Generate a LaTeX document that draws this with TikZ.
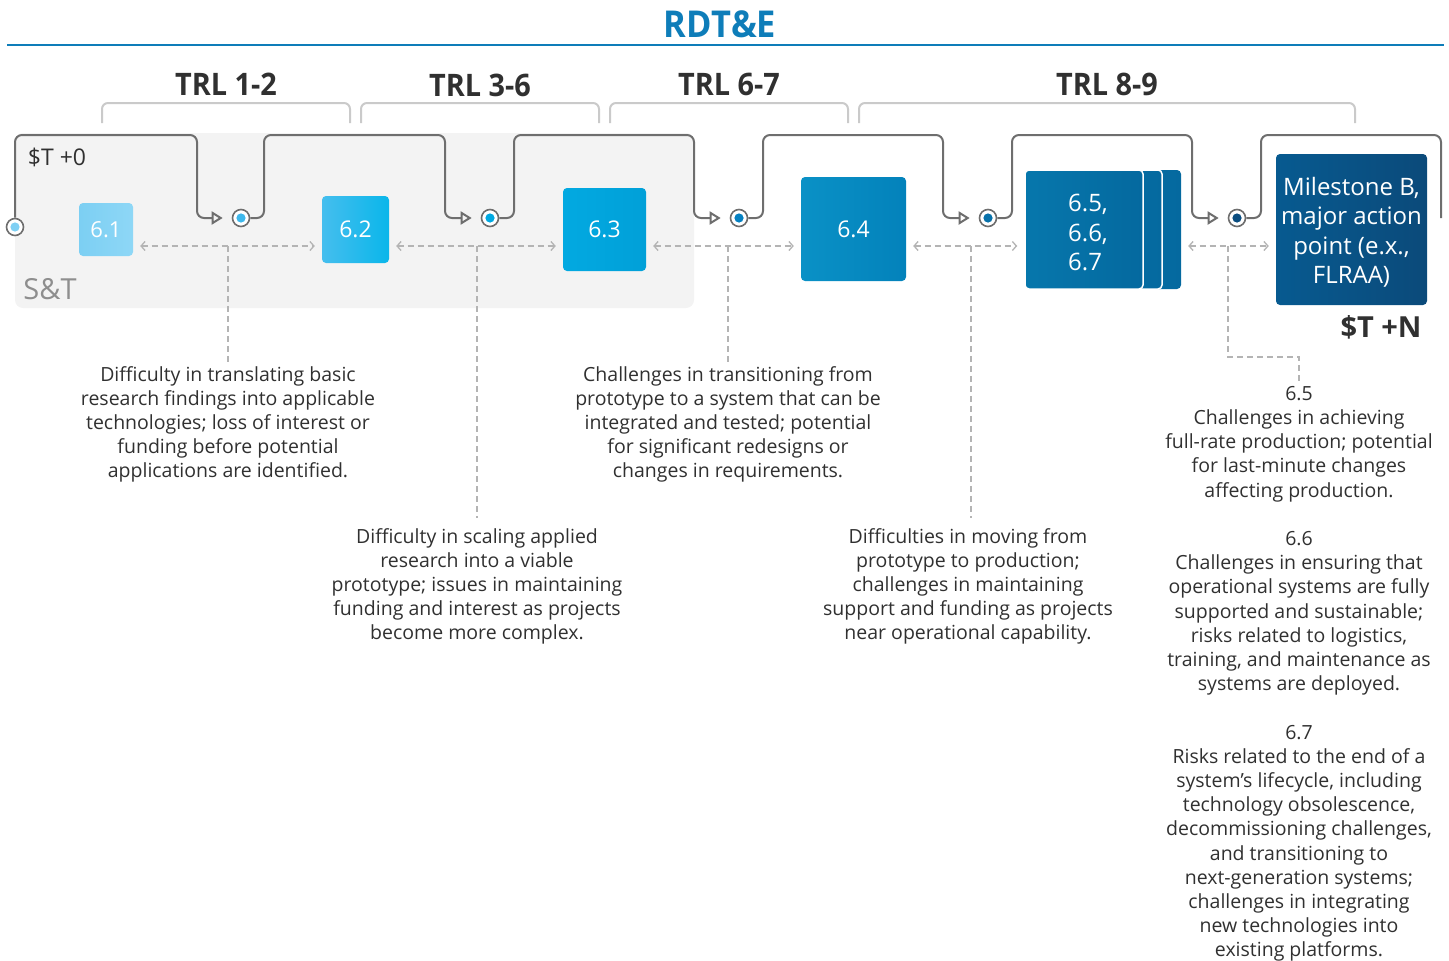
\documentclass[tikz,border=0pt]{standalone}
\usepackage{fontspec}
\setmainfont{Open Sans}
\newfontfamily\headfont{Open Sans}[FakeStretch=0.93]
\usetikzlibrary{arrows.meta}

\definecolor{rdteblue}{HTML}{0E7DB9}
\definecolor{flowgray}{HTML}{6E6E6E}
\definecolor{bracketgray}{HTML}{CACACA}
\definecolor{dashgray}{HTML}{B4B4B4}
\definecolor{stbg}{HTML}{F3F3F3}
\definecolor{stgray}{HTML}{8E8E8E}
\definecolor{ink}{HTML}{303030}
% box shades, light to dark
\definecolor{c61a}{HTML}{7CCFF3}\definecolor{c61b}{HTML}{8ED7F6}
\definecolor{c62a}{HTML}{45BEEE}\definecolor{c62b}{HTML}{0AB6EA}
\definecolor{c63a}{HTML}{02A9E1}\definecolor{c63b}{HTML}{01A0D8}
\definecolor{c64a}{HTML}{0A91C6}\definecolor{c64b}{HTML}{0382BB}
\definecolor{c65a}{HTML}{0677AC}\definecolor{c65b}{HTML}{05699F}
\definecolor{cMBa}{HTML}{075A90}\definecolor{cMBb}{HTML}{0B4A7A}
% gate dots
\definecolor{g0}{HTML}{7FD0F4}
\definecolor{g1}{HTML}{3EB8EC}
\definecolor{g2}{HTML}{00A9E2}
\definecolor{g3}{HTML}{0581C2}
\definecolor{g4}{HTML}{0771AA}
\definecolor{g5}{HTML}{0A4D80}

\tikzset{
  flow/.style={draw=flowgray, line width=2pt, rounded corners=7pt},
  flowtip/.style={-{Triangle[open, length=11pt, width=13pt]}, shorten >=9pt},
  gatedot/.style={circle, draw=flowgray, line width=1.6pt, fill=white,
    minimum size=17pt, inner sep=0pt,
    path picture={\fill[#1] (path picture bounding box.center) circle (4.6pt);}},
  trlbox/.style 2 args={rounded corners=4pt, left color=#1, right color=#2,
    text=white, inner sep=0pt, font=\fontsize{23}{28}\selectfont},
  boxtext/.style={text=white, inner sep=0pt, font=\fontsize{24}{29.5}\selectfont},
  gaparrow/.style={draw=dashgray, line width=1.3pt, dash pattern=on 6pt off 4pt,
    {Straight Barb[length=4pt, width=9pt]}-{Straight Barb[length=4pt, width=9pt]},
    shorten <=7pt, shorten >=7pt},
  noteline/.style={draw=dashgray, line width=1.2pt, dash pattern=on 6pt off 4pt},
  note/.style={align=center, anchor=north, inner sep=0pt, text=ink,
    font=\fontsize{19.5}{24.2}\selectfont},
  trl/.style={font=\headfont\bfseries\fontsize{31}{36}\selectfont, text=ink},
  bracket/.style={draw=bracketgray, line width=2pt, rounded corners=6pt},
}

\begin{document}
\begin{tikzpicture}[x=1pt, y=-1pt]
  \useasboundingbox (0,0) rectangle (1449,961);

  % heading and rule
  \node[font=\headfont\bfseries\fontsize{37}{40}\selectfont, text=rdteblue] (rdte) at (720,24) {RDT\&E};
  \draw[rdteblue, line width=2.2pt] (7,45) -- (1444,45);

  % TRL bands
  \node[trl] (trl12) at (226,84) {TRL 1-2};
  \node[trl] (trl36) at (480,85) {TRL 3-6};
  \node[trl] (trl67) at (729,84) {TRL 6-7};
  \node[trl] (trl89) at (1107,84) {TRL 8-9};
  \foreach \l/\r in {102/350, 361/599, 610/848, 859/1355}
    \draw[bracket] (\l,123) |- ({(\l+\r)/2},103) -| (\r,123);

  % S&T area
  \fill[stbg, rounded corners=8pt] (15,133) rectangle (694,308);
  \node[text=ink, font=\fontsize{23}{28}\selectfont] (tzero) at (57,157) {\$T +0};
  \node[text=stgray, font=\fontsize{29}{34}\selectfont] (snt) at (50,289) {S\&T};

  % stage boxes
  \node[trlbox={c61a}{c61b}, minimum width=54pt, minimum height=53pt, font=\fontsize{22}{26}\selectfont] (b61) at (106,229.5) {6.1};
  \node[trlbox={c62a}{c62b}, minimum width=67pt, minimum height=67pt] (b62) at (355.5,229.5) {6.2};
  \node[trlbox={c63a}{c63b}, minimum width=83pt, minimum height=83pt] (b63) at (604.5,229.5) {6.3};
  \node[trlbox={c64a}{c64b}, minimum width=105pt, minimum height=104pt] (b64) at (853.5,229) {6.4};
  \node[trlbox={c65a}{c65b}, minimum width=156pt, minimum height=119pt] (b65c) at (1103,229.5) {};
  \node[trlbox={c65a}{c65b}, draw=white, line width=1.5pt, minimum width=137pt, minimum height=119pt] (b65b) at (1093.5,229.5) {};
  \node[trlbox={c65a}{c65b}, draw=white, line width=1.5pt, minimum width=118pt, minimum height=119pt,
    label={[boxtext, align=left, xshift=4pt, yshift=-3pt]center:6.5,\\6.6,\\6.7}] (b65) at (1084,229.5) {};
  \node[trlbox={cMBa}{cMBb}, minimum width=151pt, minimum height=151pt,
    label={[boxtext, align=center, yshift=-3pt]center:Milestone B,\\major action\\point (e.x.,\\FLRAA)}] (mileB) at (1351.5,229.5) {};
  \node[text=ink, font=\bfseries\fontsize{29}{34}\selectfont] (tplusN) at (1381,327) {\$T +N};

  % gates
  \node[gatedot=g0] (c0) at (15,227) {};
  \node[gatedot=g1] (c1) at (241,218) {};
  \node[gatedot=g2] (c2) at (490,218) {};
  \node[gatedot=g3] (c3) at (739,218) {};
  \node[gatedot=g4] (c4) at (988,218) {};
  \node[gatedot=g5] (c5) at (1237,218) {};
  \coordinate (flowend) at (1441,218);

  % flow line
  \draw[flow, flowtip] (c0) |- (197,135) |- (c1);
  \foreach \a/\b/\r/\f in {c1/c2/264/445, c2/c3/514/694, c3/c4/763/943, c4/c5/1012/1192}
    \draw[flow, flowtip] (\a) -| (\r,135) -| (\f,218) -- (\b);
  \draw[flow] (c5) -| (1261,135) -| (flowend);

  % gaps between stages
  \coordinate (gapy) at (0,246);
  \draw[gaparrow] (b61.east |- gapy) -- (b62.west |- gapy);
  \draw[gaparrow] (b62.east |- gapy) -- (b63.west |- gapy);
  \draw[gaparrow] (b63.east |- gapy) -- (b64.west |- gapy);
  \draw[gaparrow] (b64.east |- gapy) -- (b65.west |- gapy);
  \draw[gaparrow] (b65c.east |- gapy) -- (mileB.west |- gapy);

  % notes
  \node[note] (n1) at (228,366) {Difficulty in translating basic\\research findings into applicable\\technologies; loss of interest or\\funding before potential\\applications are identified.};
  \node[note] (n2) at (477,528) {Difficulty in scaling applied\\research into a viable\\prototype; issues in maintaining\\funding and interest as projects\\become more complex.};
  \node[note] (n3) at (728,366) {Challenges in transitioning from\\prototype to a system that can be\\integrated and tested; potential\\for significant redesigns or\\changes in requirements.};
  \node[note] (n4) at (968,528) {Difficulties in moving from\\prototype to production;\\challenges in maintaining\\support and funding as projects\\near operational capability.};
  \node[note] (n65) at (1299,386) {6.5\\Challenges in achieving\\full-rate production; potential\\for last-minute changes\\affecting production.\\[24.2pt]
    6.6\\Challenges in ensuring that\\operational systems are fully\\supported and sustainable;\\risks related to logistics,\\training, and maintenance as\\systems are deployed.\\[24.2pt]
    6.7\\Risks related to the end of a\\system’s lifecycle, including\\technology obsolescence,\\decommissioning challenges,\\and transitioning to\\next-generation systems;\\challenges in integrating\\new technologies into\\existing platforms.};

  \coordinate (d1) at (228,246);
  \coordinate (d2) at (477,246);
  \coordinate (d3) at (728,246);
  \coordinate (d4) at (971,246);
  \coordinate (d5) at (1228,246);
  \draw[noteline, shorten >=4pt] (d1) -- (d1 |- n1.north);
  \draw[noteline, shorten >=10pt] (d2) -- (d2 |- n2.north);
  \draw[noteline, shorten >=4pt] (d3) -- (d3 |- n3.north);
  \draw[noteline, shorten >=10pt] (d4) -- (d4 |- n4.north);
  \draw[noteline, shorten >=4pt] (d5) |- ([yshift=29pt]n65.north) -- (n65.north);
\end{tikzpicture}
\end{document}
